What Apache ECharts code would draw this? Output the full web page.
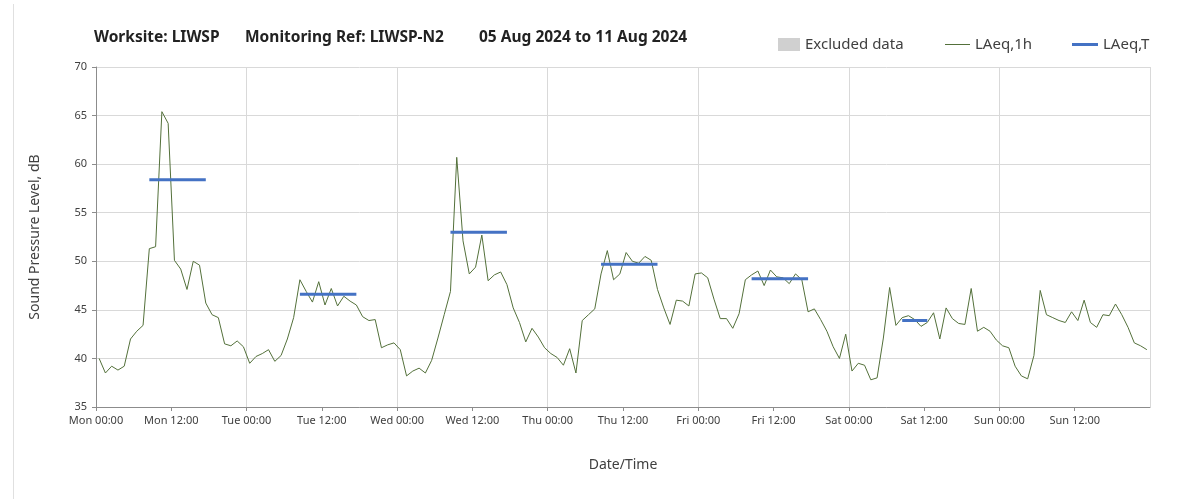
<!DOCTYPE html>
<html>
<head>
<meta charset="utf-8">
<script src="https://cdn.jsdelivr.net/npm/echarts@6/dist/echarts.min.js"></script>
<style>
  html, body { margin: 0; padding: 0; background: #fff; }
  #main { width: 1203px; height: 499px; }
  #edge { position: absolute; left: 13px; top: 4px; width: 0; height: 495px; border-left: 1px solid #e0e0e0; }
</style>
</head>
<body>
<div id="edge"></div>
<div id="main"></div>
<script>
// hourly LAeq,1h, Mon 00:00 .. Sun 23:00 (168 values)
var hourly = [
  40.0, 38.5, 39.2, 38.8, 39.2, 42.0, 42.8, 43.4, 51.3, 51.5, 65.4, 64.2,
  50.1, 49.2, 47.1, 50.0, 49.6, 45.7, 44.5, 44.2, 41.5, 41.3, 41.8, 41.2,
  39.5, 40.2, 40.5, 40.9, 39.7, 40.3, 42.0, 44.2, 48.1, 46.9, 45.8, 47.9,
  45.5, 47.2, 45.4, 46.4, 45.9, 45.5, 44.3, 43.9, 44.0, 41.1, 41.4, 41.6,
  40.9, 38.2, 38.7, 39.0, 38.5, 39.8, 42.1, 44.5, 46.9, 60.7, 52.1, 48.7,
  49.4, 52.7, 48.0, 48.6, 48.9, 47.6, 45.2, 43.7, 41.7, 43.1, 42.2, 41.1,
  40.5, 40.1, 39.3, 41.0, 38.5, 43.9, 44.5, 45.1, 48.7, 51.1, 48.1, 48.7,
  50.9, 50.0, 49.8, 50.5, 50.1, 47.1, 45.2, 43.5, 46.0, 45.9, 45.4, 48.7,
  48.8, 48.3, 46.1, 44.1, 44.1, 43.1, 44.6, 48.1, 48.6, 49.0, 47.5, 49.1,
  48.4, 48.3, 47.7, 48.7, 48.1, 44.8, 45.1, 44.0, 42.8, 41.2, 40.0, 42.5,
  38.7, 39.5, 39.3, 37.8, 38.0, 42.1, 47.3, 43.4, 44.2, 44.4, 44.0, 43.3,
  43.7, 44.7, 42.0, 45.2, 44.1, 43.6, 43.5, 47.2, 42.8, 43.2, 42.8, 41.9,
  41.3, 41.1, 39.2, 38.2, 37.9, 40.3, 47.0, 44.5, 44.2, 43.9, 43.7, 44.8,
  43.9, 46.0, 43.7, 43.2, 44.5, 44.4, 45.6, 44.5, 43.2, 41.6, 41.3, 40.9
];

// LAeq,T daytime periods (day index, start hour, end hour, level)
var periodDay = [0, 1, 2, 3, 4, 5];
var periodStart = [8, 8, 8, 8, 8, 8];
var periodEnd = [18, 18, 18, 18, 18, 13];
var periodLevel = [58.4, 46.6, 53.0, 49.7, 48.2, 43.9];

var dayNames = ['Mon', 'Tue', 'Wed', 'Thu', 'Fri', 'Sat', 'Sun'];
var yTicks = { min: 35, max: 70, step: 5 };

var hourlyData = hourly.map(function (v, i) { return [i + 0.5, v]; });

var periodData = [];
periodDay.forEach(function (d, i) {
  periodData.push([d * 24 + periodStart[i] + 0.5, periodLevel[i]]);
  periodData.push([d * 24 + periodEnd[i] - 0.5, periodLevel[i]]);
  periodData.push([d * 24 + periodEnd[i], '-']);
});

var font = '"Noto Sans", sans-serif';
var textGrey = '#404040';
var titleStyle = { fontFamily: font, fontSize: 15.5, fontWeight: 'bold', color: '#222' };
var legendText = { fontFamily: font, fontSize: 15, color: textGrey };

var myChart = echarts.init(document.getElementById('main'));
var option = {
  animation: false,
  title: [
    { text: 'Worksite: LIWSP', left: 89, top: 25, textStyle: titleStyle },
    { text: 'Monitoring Ref: LIWSP-N2', left: 240, top: 25, textStyle: titleStyle },
    { text: '05 Aug 2024 to 11 Aug 2024', left: 474, top: 25, textStyle: titleStyle }
  ],
  legend: [
    {
      data: ['Excluded data'], left: 773, top: 32, icon: 'rect',
      itemWidth: 22, itemHeight: 13, itemGap: 4, textStyle: legendText
    },
    {
      data: ['LAeq,1h'], left: 940, top: 32, icon: 'rect',
      itemWidth: 25, itemHeight: 1, textStyle: legendText
    },
    {
      data: ['LAeq,T'], left: 1067, top: 32, icon: 'rect',
      itemWidth: 26, itemHeight: 3, textStyle: legendText
    }
  ],
  grid: { left: 96, right: 53, top: 67, bottom: 92 },
  xAxis: [
    {
      type: 'value', min: 0, max: 168, interval: 12,
      name: 'Date/Time', nameLocation: 'middle', nameGap: 51,
      nameTextStyle: { fontFamily: font, fontSize: 14, color: textGrey },
      axisLine: { lineStyle: { color: '#8c8c8c' } },
      axisTick: { show: true, length: 4, lineStyle: { color: '#8c8c8c' } },
      axisLabel: {
        fontFamily: font, fontSize: 11, color: textGrey, margin: 8,
        showMaxLabel: false,
        formatter: function (v) {
          if (v >= 168) return '';
          var d = Math.floor(v / 24), h = v % 24;
          return dayNames[d] + ' ' + (h < 10 ? '0' + h : h) + ':00';
        }
      },
      splitLine: { show: false }
    },
    {
      type: 'value', min: 0, max: 168, interval: 24, position: 'bottom',
      axisLine: { show: false }, axisTick: { show: false }, axisLabel: { show: false },
      splitLine: { show: true, lineStyle: { color: '#d9d9d9', width: 1 } }
    }
  ],
  yAxis: {
    type: 'value', min: yTicks.min, max: yTicks.max, interval: yTicks.step,
    name: 'Sound Pressure Level, dB', nameLocation: 'middle', nameGap: 54,
    nameTextStyle: { fontFamily: font, fontSize: 14, color: textGrey },
    axisLine: { show: true, lineStyle: { color: '#8c8c8c' } },
    axisTick: { show: true, length: 4, lineStyle: { color: '#8c8c8c' } },
    axisLabel: { fontFamily: font, fontSize: 11, color: textGrey, margin: 9 },
    splitLine: { lineStyle: { color: '#d9d9d9', width: 1 } }
  },
  series: [
    {
      name: 'Excluded data', type: 'bar', data: [],
      itemStyle: { color: '#d0d0d0' }
    },
    {
      name: 'LAeq,1h', type: 'line', data: hourlyData,
      showSymbol: false, symbol: 'none',
      itemStyle: { color: '#53703a' },
      lineStyle: { color: '#53703a', width: 1 },
      z: 3
    },
    {
      name: 'LAeq,T', type: 'line', data: periodData,
      showSymbol: false, symbol: 'none', connectNulls: false,
      itemStyle: { color: '#4472c4' },
      lineStyle: { color: '#4472c4', width: 3 },
      z: 4
    }
  ]
};

option && myChart.setOption(option);
</script>
</body>
</html>
